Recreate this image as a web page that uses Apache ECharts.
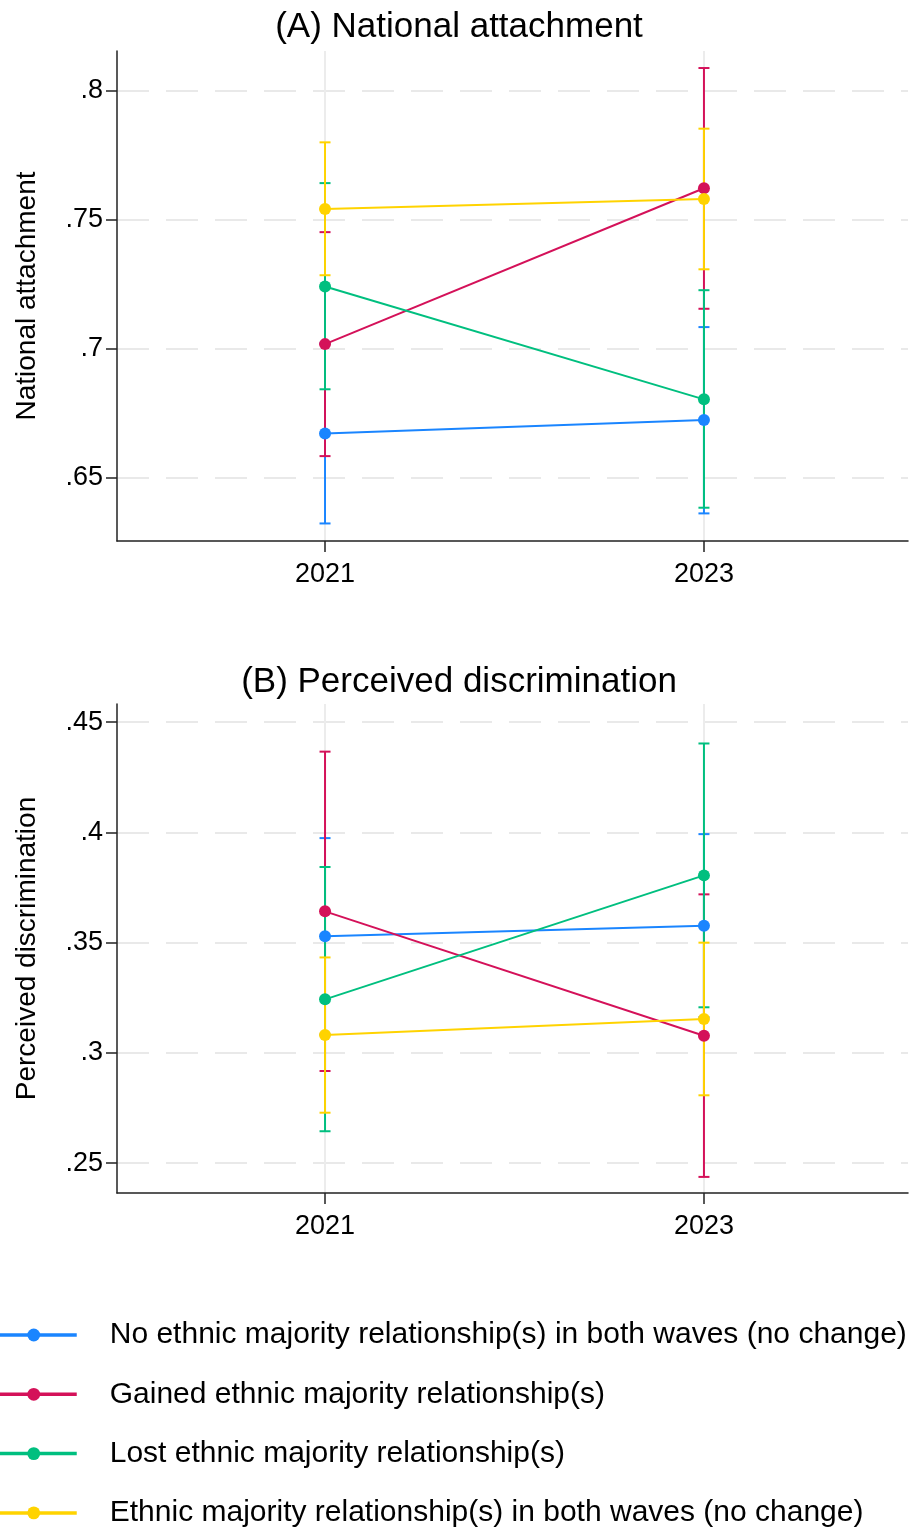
<!DOCTYPE html>
<html>
<head>
<meta charset="utf-8">
<script src="https://cdn.jsdelivr.net/npm/echarts@6/dist/echarts.min.js"></script>
<style>
html,body{margin:0;padding:0;background:#fff;}
#chart{width:909px;height:1531px;}
</style>
</head>
<body>
<div id="chart"></div>
<script>
// ---- data ----
const years = [2021, 2023];
const groupNames = [
  'No ethnic majority relationship(s) in both waves (no change)',
  'Gained ethnic majority relationship(s)',
  'Lost ethnic majority relationship(s)',
  'Ethnic majority relationship(s) in both waves (no change)'
];
const groupColors = ['#1a85ff', '#d41159', '#00bf7f', '#ffd300'];

// Panel A: National attachment (estimate, lower CI, upper CI) per group, per year
const natMean = [[0.6673, 0.6725], [0.7019, 0.7623], [0.7242, 0.6805], [0.7543, 0.7581]];
const natLow  = [[0.6324, 0.6363], [0.6585, 0.7156], [0.6844, 0.6385], [0.7286, 0.7309]];
const natHigh = [[0.7022, 0.7085], [0.7453, 0.8089], [0.7643, 0.7228], [0.7801, 0.7854]];

// Panel B: Perceived discrimination
const disMean = [[0.3529, 0.3577], [0.3642, 0.3078], [0.3243, 0.3805], [0.3081, 0.3154]];
const disLow  = [[0.3084, 0.3162], [0.2918, 0.2438], [0.2645, 0.3207], [0.2729, 0.2808]];
const disHigh = [[0.3974, 0.3992], [0.4366, 0.3719], [0.3843, 0.4403], [0.3433, 0.3500]];

const natTicks = [0.65, 0.70, 0.75, 0.80];
const disTicks = [0.25, 0.30, 0.35, 0.40, 0.45];
const panelTitles = ['(A) National attachment', '(B) Perceived discrimination'];
const yTitles = ['National attachment', 'Perceived discrimination'];

// ---- chart ----
const FONT = "'Liberation Sans', Arial, Helvetica, sans-serif";
const chart = echarts.init(document.getElementById('chart'), null, {renderer: 'canvas'});

function fmtTick(v) {
  let s = String(Math.round(v * 1000) / 1000);
  if (s.startsWith('0.')) s = s.slice(1);
  return s;
}

const grids = [
  {left: 117, right: 1, top: 51, height: 490},
  {left: 117, right: 1, top: 704, height: 489}
];

function xAxisFor(i) {
  return {
    type: 'value', gridIndex: i, min: 2019.902, max: 2024.077,
    axisLine: {show: true, onZero: false, lineStyle: {color: '#222', width: 1.5}},
    axisTick: {show: true, length: 11, customValues: years, lineStyle: {color: '#222', width: 1.5}},
    axisLabel: {customValues: years, fontSize: 27, color: '#000', fontFamily: FONT, margin: 20,
      formatter: v => String(v)},
    splitLine: {show: true, lineStyle: {color: '#ececec', width: 2, type: 'solid'}}
  };
}
function yAxisFor(i, min, max, ticks) {
  return {
    type: 'value', gridIndex: i, min: min, max: max,
    name: yTitles[i], nameLocation: 'middle', nameGap: 76, nameRotate: 90,
    nameTextStyle: {fontSize: 28, color: '#000', fontFamily: FONT},
    axisLine: {show: true, lineStyle: {color: '#222', width: 1.5}},
    axisTick: {show: true, length: 11, customValues: ticks, lineStyle: {color: '#222', width: 1.5}},
    axisLabel: {customValues: ticks, fontSize: 27, color: '#000', fontFamily: FONT, margin: 14,
      formatter: fmtTick},
    splitLine: {show: true, lineStyle: {color: '#e9e9e9', width: 2, type: [32, 17]}}
  };
}

function errSeries(gi, panel, low, high) {
  const color = groupColors[gi];
  return {
    type: 'custom', name: 'ci' + panel + gi, xAxisIndex: panel, yAxisIndex: panel,
    silent: true, z: 2,
    data: years.map((y, k) => [y, low[gi][k], high[gi][k]]),
    encode: {x: 0, y: [1, 2]},
    renderItem: function (params, api) {
      const x = api.value(0);
      const pLo = api.coord([x, api.value(1)]);
      const pHi = api.coord([x, api.value(2)]);
      const hw = 5.5;
      const st = {stroke: color, lineWidth: 2};
      return {type: 'group', children: [
        {type: 'line', shape: {x1: pLo[0], y1: pLo[1], x2: pHi[0], y2: pHi[1]}, style: st},
        {type: 'line', shape: {x1: pLo[0] - hw, y1: pLo[1], x2: pLo[0] + hw, y2: pLo[1]}, style: st},
        {type: 'line', shape: {x1: pHi[0] - hw, y1: pHi[1], x2: pHi[0] + hw, y2: pHi[1]}, style: st}
      ]};
    }
  };
}
function lineSeries(gi, panel, mean) {
  return {
    type: 'line', name: groupNames[gi], xAxisIndex: panel, yAxisIndex: panel,
    data: years.map((y, k) => [y, mean[gi][k]]),
    symbol: 'circle', symbolSize: 12, showSymbol: true,
    lineStyle: {color: groupColors[gi], width: 2},
    itemStyle: {color: groupColors[gi]},
    z: 3
  };
}

const series = [];
[0, 1, 2, 3].forEach(gi => series.push(errSeries(gi, 0, natLow, natHigh)));
[0, 1, 2, 3].forEach(gi => series.push(lineSeries(gi, 0, natMean)));
[0, 1, 2, 3].forEach(gi => series.push(errSeries(gi, 1, disLow, disHigh)));
[0, 1, 2, 3].forEach(gi => series.push(lineSeries(gi, 1, disMean)));

const option = {
  animation: false,
  backgroundColor: '#fff',
  title: [
    {text: panelTitles[0], left: 459, top: 10, textAlign: 'center', padding: 0,
      textStyle: {fontSize: 35, fontWeight: 'normal', color: '#000', fontFamily: FONT}},
    {text: panelTitles[1], left: 459, top: 665, textAlign: 'center', padding: 0,
      textStyle: {fontSize: 35, fontWeight: 'normal', color: '#000', fontFamily: FONT}}
  ],
  grid: grids,
  xAxis: [xAxisFor(0), xAxisFor(1)],
  yAxis: [yAxisFor(0, 0.6256, 0.8155, natTicks), yAxisFor(1, 0.2365, 0.4582, disTicks)],
  legend: {
    data: groupNames, orient: 'vertical', left: -11, top: 1320, padding: 0,
    itemWidth: 86, itemHeight: 16, itemGap: 29.3,
    lineStyle: {width: 3.5},
    formatter: n => '{g|}' + n,
    textStyle: {fontSize: 30, color: '#000', fontFamily: FONT, lineHeight: 30,
      rich: {g: {width: 28}}}
  },
  series: series
};
chart.setOption(option);
</script>
</body>
</html>
